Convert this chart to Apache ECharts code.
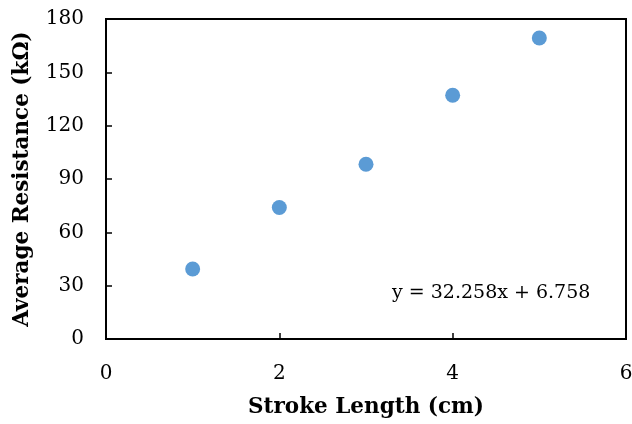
<!DOCTYPE html>
<html><head><meta charset="utf-8">
<script src="https://cdn.jsdelivr.net/npm/echarts@6/dist/echarts.min.js"></script>
<style>html,body{margin:0;padding:0;background:#fff}#c{width:632px;height:424px}</style>
</head><body><div id="c"></div>
<script>
const strokeLength = [1, 2, 3, 4, 5];
const avgResistance = [39.4, 74.0, 98.3, 137.1, 169.3];
const xTicks = [0, 2, 4, 6];
const yTicks = [0, 30, 60, 90, 120, 150, 180];
const equationText = 'y = 32.258x + 6.758';
const xTitle = 'Stroke Length (cm)';
const yTitle = 'Average Resistance (kΩ)';

const font = '"DejaVu Serif", serif';
const chart = echarts.init(document.getElementById('c'));
chart.setOption({
  animation: false,
  grid: {left: 106, top: 19, right: 6, bottom: 85, outerBoundsMode: 'none', containLabel: false,
         show: true, borderColor: '#000', borderWidth: 2, backgroundColor: 'transparent'},
  xAxis: {
    type: 'value', min: xTicks[0], max: xTicks[xTicks.length-1], interval: 2,
    name: xTitle, nameLocation: 'middle', nameGap: 57,
    nameTextStyle: {fontFamily: font, fontWeight: 'bold', fontSize: 21.5, color: '#000'},
    axisLine: {show: true, lineStyle: {color: '#000', width: 2}},
    axisTick: {show: true, inside: true, length: 6, lineStyle: {color: '#000', width: 1.5}},
    axisLabel: {fontFamily: font, fontSize: 20, color: '#000', margin: 25},
    splitLine: {show: false}
  },
  yAxis: {
    type: 'value', min: yTicks[0], max: yTicks[yTicks.length-1], interval: 30,
    name: yTitle, nameLocation: 'middle', nameGap: 73,
    nameTextStyle: {fontFamily: font, fontWeight: 'bold', fontSize: 21.5, color: '#000'},
    axisLine: {show: true, lineStyle: {color: '#000', width: 2}},
    axisTick: {show: true, inside: true, length: 6, lineStyle: {color: '#000', width: 1.5}},
    axisLabel: {fontFamily: font, fontSize: 20, color: '#000', margin: 22},
    splitLine: {show: false}
  },
  series: [{
    type: 'scatter',
    data: strokeLength.map((x, i) => [x, avgResistance[i]]),
    symbolSize: 15,
    itemStyle: {color: '#5B9BD5', opacity: 1}
  }],
  graphic: [{
    type: 'text', left: 392, top: 284,
    style: {text: equationText, fontFamily: font, fontSize: 19, fill: '#000'}
  }]
});
</script></body></html>
